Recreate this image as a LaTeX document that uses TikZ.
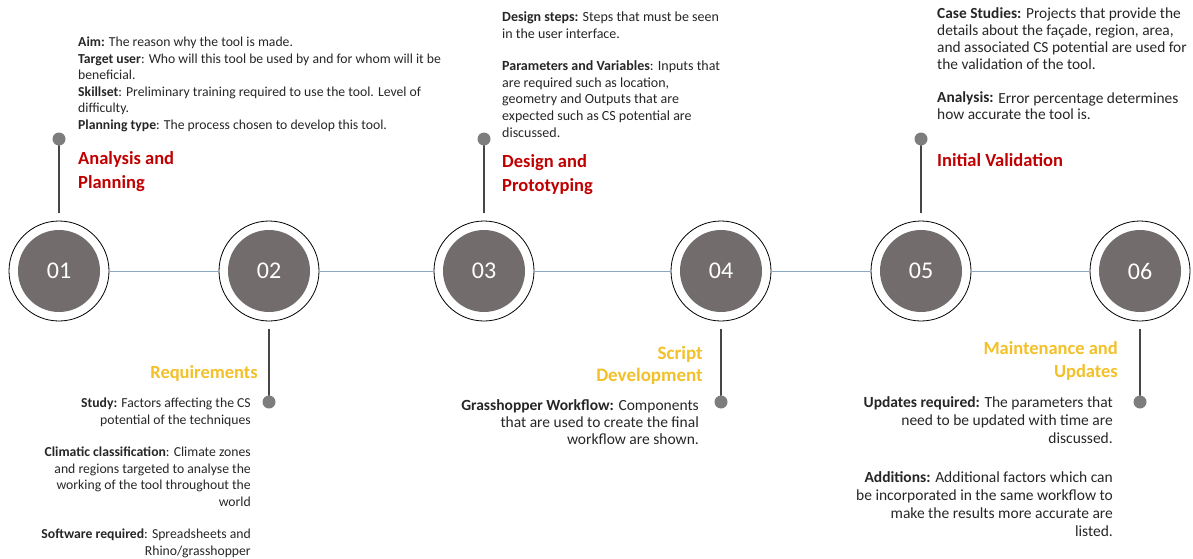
\documentclass[tikz,border=0pt]{standalone}
\usepackage{fontspec}
\setmainfont{Carlito}
\definecolor{stepgray}{RGB}{114,108,108}
\definecolor{knobgray}{RGB}{125,125,125}
\definecolor{stemgray}{RGB}{70,70,70}
\definecolor{linkblue}{RGB}{140,168,195}
\definecolor{headred}{RGB}{192,0,0}
\definecolor{headgold}{RGB}{242,192,40}
\tikzset{
  ring/.style={circle,draw=black,line width=0.8pt,fill=white,minimum size=100pt,inner sep=0},
  disc/.style={circle,fill=stepgray,minimum size=82pt,inner sep=0,text=white,font=\fontsize{24}{24}\selectfont},
  knob/.style={circle,fill=knobgray,minimum size=13pt,inner sep=0},
  stemline/.style={stemgray,line width=1.3pt},
  link/.style={linkblue,line width=1pt},
  body/.style={inner sep=0,text=black!85},
  lbody/.style={body,align=left,anchor=base west},
  rbody/.style={body,align=right,anchor=base east},
  redhead/.style={inner sep=0,font=\fontsize{18.5}{24}\selectfont\bfseries,text=headred,align=left,anchor=base west},
  goldhead/.style={inner sep=0,font=\fontsize{18.5}{23}\selectfont\bfseries,text=headgold,align=right,anchor=base east},
}
\begin{document}
\begin{tikzpicture}[x=1pt,y=-1pt,line join=round,line cap=round]
\useasboundingbox (0,0) rectangle (1193,559);
% the six steps
\foreach \x/\n in {59/01,269/02,484/03,721/04,921/05,1140/06}{
  \node[ring] (c\n) at (\x,271) {};
  \node[disc] (n\n) at (c\n) {\n};
}
\foreach \a/\b in {01/02,02/03,03/04,04/05,05/06}
  \draw[link] (c\a) -- (c\b);
% stems above
\foreach \n in {01,03,05}{
  \node[knob] (k\n) at (c\n |- 0,139) {};
  \coordinate (s\n) at ([yshift=8pt]c\n.north);
  \draw[stemline] (k\n) -- (s\n);
}
% stems below
\foreach \n in {02,04,06}{
  \node[knob] (k\n) at (c\n |- 0,402) {};
  \coordinate (s\n) at ([yshift=-8pt]c\n.south);
  \draw[stemline] (s\n) -- (k\n);
}
% 01
\node[lbody,font=\fontsize{13.7}{16.6}\selectfont] (t01) at (78,129.5) {\textbf{Aim:} The reason why the tool is made.\\
\textbf{Target user}: Who will this tool be used by and for whom will it be\\
beneficial.\\
\textbf{Skillset}: Preliminary training required to use the tool. Level of\\
difficulty.\\
\textbf{Planning type}: The process chosen to develop this tool.};
\node[redhead] (h01) at (78,188) {Analysis and\\Planning};
% 02
\node[goldhead] (h02) at (258,378) {Requirements};
\node[rbody,font=\fontsize{13.7}{16.5}\selectfont] (t02) at (251,555) {\textbf{Study:} Factors affecting the CS\\
potential of the techniques\\[16pt]
\textbf{Climatic classification}: Climate zones\\
and regions targeted to analyse the\\
working of the tool throughout the\\
world\\[16pt]
\textbf{Software required}: Spreadsheets and\\
Rhino/grasshopper};
% 03
\node[lbody,font=\fontsize{14}{16.6}\selectfont] (t03) at (502,137) {\textbf{Design steps:} Steps that must be seen\\
in the user interface.\\[16pt]
\textbf{Parameters and Variables}: Inputs that\\
are required such as location,\\
geometry and Outputs that are\\
expected such as CS potential are\\
discussed.};
\node[redhead] (h03) at (502,191) {Design and\\Prototyping};
% 04
\node[goldhead,font=\fontsize{19}{22}\selectfont\bfseries] (h04) at (703,381) {Script\\Development};
\node[rbody,font=\fontsize{15.5}{17}\selectfont] (t04) at (699,444.5) {\textbf{Grasshopper Workflow:} Components\\
that are used to create the final\\
workflow are shown.};
% 05
\node[lbody,font=\fontsize{15.4}{17}\selectfont] (t05) at (937,120) {\textbf{Case Studies:} Projects that provide the\\
details about the façade, region, area,\\
and associated CS potential are used for\\
the validation of the tool.\\[16pt]
\textbf{Analysis:} Error percentage determines\\
how accurate the tool is.};
\node[redhead] (h05) at (937,166) {Initial Validation};
% 06
\node[goldhead] (h06) at (1118,377) {Maintenance and\\Updates};
\node[rbody,font=\fontsize{15.5}{18}\selectfont] (t06) at (1113,536.5) {\textbf{Updates required:} The parameters that\\
need to be updated with time are\\
discussed.\\[21pt]
\textbf{Additions:} Additional factors which can\\
be incorporated in the same workflow to\\
make the results more accurate are\\
listed.};
\end{tikzpicture}
\end{document}
